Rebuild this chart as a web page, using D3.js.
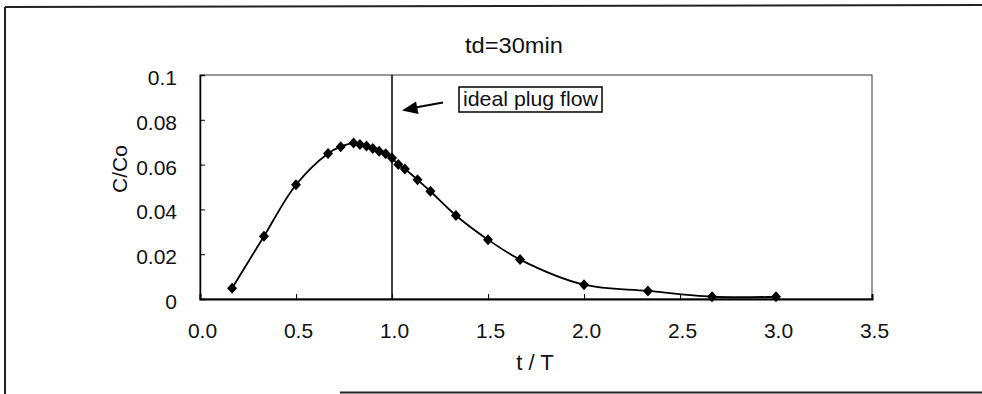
<!DOCTYPE html>
<html>
<head>
<meta charset="utf-8">
<script src="https://cdn.jsdelivr.net/npm/d3@7"></script>
<style>
  body { margin: 0; background: #fff; }
  svg text { font-family: "Liberation Sans", Arial, Helvetica, sans-serif; fill: #111; }
</style>
</head>
<body>
<div id="chart"></div>
<script>
// t/T (sampling time over theoretical detention time) and measured C/Co
const tOverT = [0.167, 0.333, 0.5, 0.667, 0.733, 0.8, 0.833, 0.867, 0.9, 0.933, 0.967, 1.0,
                1.033, 1.067, 1.133, 1.2, 1.333, 1.5, 1.667, 2.0, 2.333, 2.667, 3.0];
const cOverCo = [0.0048, 0.028, 0.051, 0.065, 0.068, 0.0696, 0.069, 0.0683, 0.0672, 0.066, 0.0648, 0.063,
                 0.060, 0.058, 0.0532, 0.0481, 0.0373, 0.0265, 0.0176, 0.0064, 0.0036, 0.001, 0.001];
const xTicks = [0, 0.5, 1.0, 1.5, 2.0, 2.5, 3.0, 3.5];
const yTicks = [0, 0.02, 0.04, 0.06, 0.08, 0.1];
const plugFlow = 1.0;
const title = "td=30min";

const width = 982, height = 394;
const plot = { left: 200, right: 872, top: 75, bottom: 299 };

const svg = d3.select("#chart").append("svg")
    .attr("width", width)
    .attr("height", height);

// scanned page frame
svg.append("line").attr("x1", 5).attr("y1", 7).attr("x2", 982).attr("y2", 5)
    .attr("stroke", "#222").attr("stroke-width", 2);
svg.append("line").attr("x1", 5).attr("y1", 7).attr("x2", 5).attr("y2", 394)
    .attr("stroke", "#222").attr("stroke-width", 2);
svg.append("line").attr("x1", 340).attr("y1", 392.5).attr("x2", 982).attr("y2", 392.5)
    .attr("stroke", "#222").attr("stroke-width", 2);

const x = d3.scaleLinear().domain([0, 3.5]).range([plot.left, plot.right]);
const y = d3.scaleLinear().domain([0, 0.1]).range([plot.bottom, plot.top]);

// plot area border (top/right lighter)
svg.append("rect")
    .attr("x", plot.left).attr("y", plot.top)
    .attr("width", plot.right - plot.left).attr("height", plot.bottom - plot.top)
    .attr("fill", "none").attr("stroke", "#555").attr("stroke-width", 1.2);

// y axis, ticks point into the plot
const yAxis = d3.axisLeft(y)
    .tickValues(yTicks)
    .tickSize(-5)
    .tickPadding(23)
    .tickFormat(d => d === 0 ? "0" : String(+d.toFixed(2)));

const gy = svg.append("g")
    .attr("transform", "translate(" + plot.left + ",0)")
    .call(yAxis);
gy.select(".domain").attr("stroke", "#000").attr("stroke-width", 1.5);
gy.selectAll(".tick line").attr("stroke", "#000");
gy.selectAll(".tick text")
    .attr("font-size", 21)
    .attr("dy", "0.45em")
    .attr("fill", "#111");

const xAxis = d3.axisBottom(x)
    .tickValues(xTicks)
    .tickSize(-5)
    .tickFormat(d3.format(".1f"));

const gx = svg.append("g")
    .attr("transform", "translate(0," + plot.bottom + ")")
    .call(xAxis);
gx.select(".domain").attr("stroke", "#000").attr("stroke-width", 2);
gx.selectAll(".tick line").attr("stroke", "#000");
gx.selectAll(".tick text")
    .attr("font-size", 21)
    .attr("y", 39)
    .attr("dy", 0)
    .attr("dx", 2)
    .attr("fill", "#111");

// ideal plug flow line
svg.append("line")
    .attr("x1", x(plugFlow)).attr("x2", x(plugFlow))
    .attr("y1", plot.top).attr("y2", plot.bottom)
    .attr("stroke", "#000").attr("stroke-width", 1.5);

// curve
const points = tOverT.map((t, i) => [t, cOverCo[i]]);
const line = d3.line()
    .x(d => x(d[0]))
    .y(d => y(d[1]))
    .curve(d3.curveCatmullRom.alpha(0.5));

svg.append("path")
    .datum(points)
    .attr("fill", "none")
    .attr("stroke", "#000")
    .attr("stroke-width", 1.8)
    .attr("d", line);

// diamond markers
svg.selectAll("path.marker")
    .data(points)
    .enter().append("path")
    .attr("class", "marker")
    .attr("d", "M0,-5.5L5,0L0,5.5L-5,0Z")
    .attr("transform", d => "translate(" + x(d[0]) + "," + y(d[1]) + ")")
    .attr("fill", "#000");

// title
svg.append("text")
    .attr("x", 514).attr("y", 53)
    .attr("text-anchor", "middle")
    .attr("font-size", 22)
    .attr("textLength", 98)
    .attr("lengthAdjust", "spacingAndGlyphs")
    .text(title);

// axis titles
svg.append("text")
    .attr("x", 535).attr("y", 370)
    .attr("text-anchor", "middle")
    .attr("font-size", 22)
    .text("t / T");

svg.append("text")
    .attr("transform", "translate(127,169) rotate(-90)")
    .attr("text-anchor", "middle")
    .attr("font-size", 21)
    .text("C/Co");

// annotation box + arrow
svg.append("rect")
    .attr("x", 459).attr("y", 87)
    .attr("width", 143).attr("height", 25)
    .attr("fill", "#fff").attr("stroke", "#000").attr("stroke-width", 1.5);
svg.append("text")
    .attr("x", 463).attr("y", 106)
    .attr("font-size", 21)
    .attr("textLength", 135)
    .attr("lengthAdjust", "spacingAndGlyphs")
    .text("ideal plug flow");

svg.append("line")
    .attr("x1", 443).attr("y1", 102.5)
    .attr("x2", 414).attr("y2", 107.8)
    .attr("stroke", "#000").attr("stroke-width", 2);
svg.append("path")
    .attr("d", "M402,110.5L416,101.5L418.5,114Z")
    .attr("fill", "#000");
</script>
</body>
</html>
